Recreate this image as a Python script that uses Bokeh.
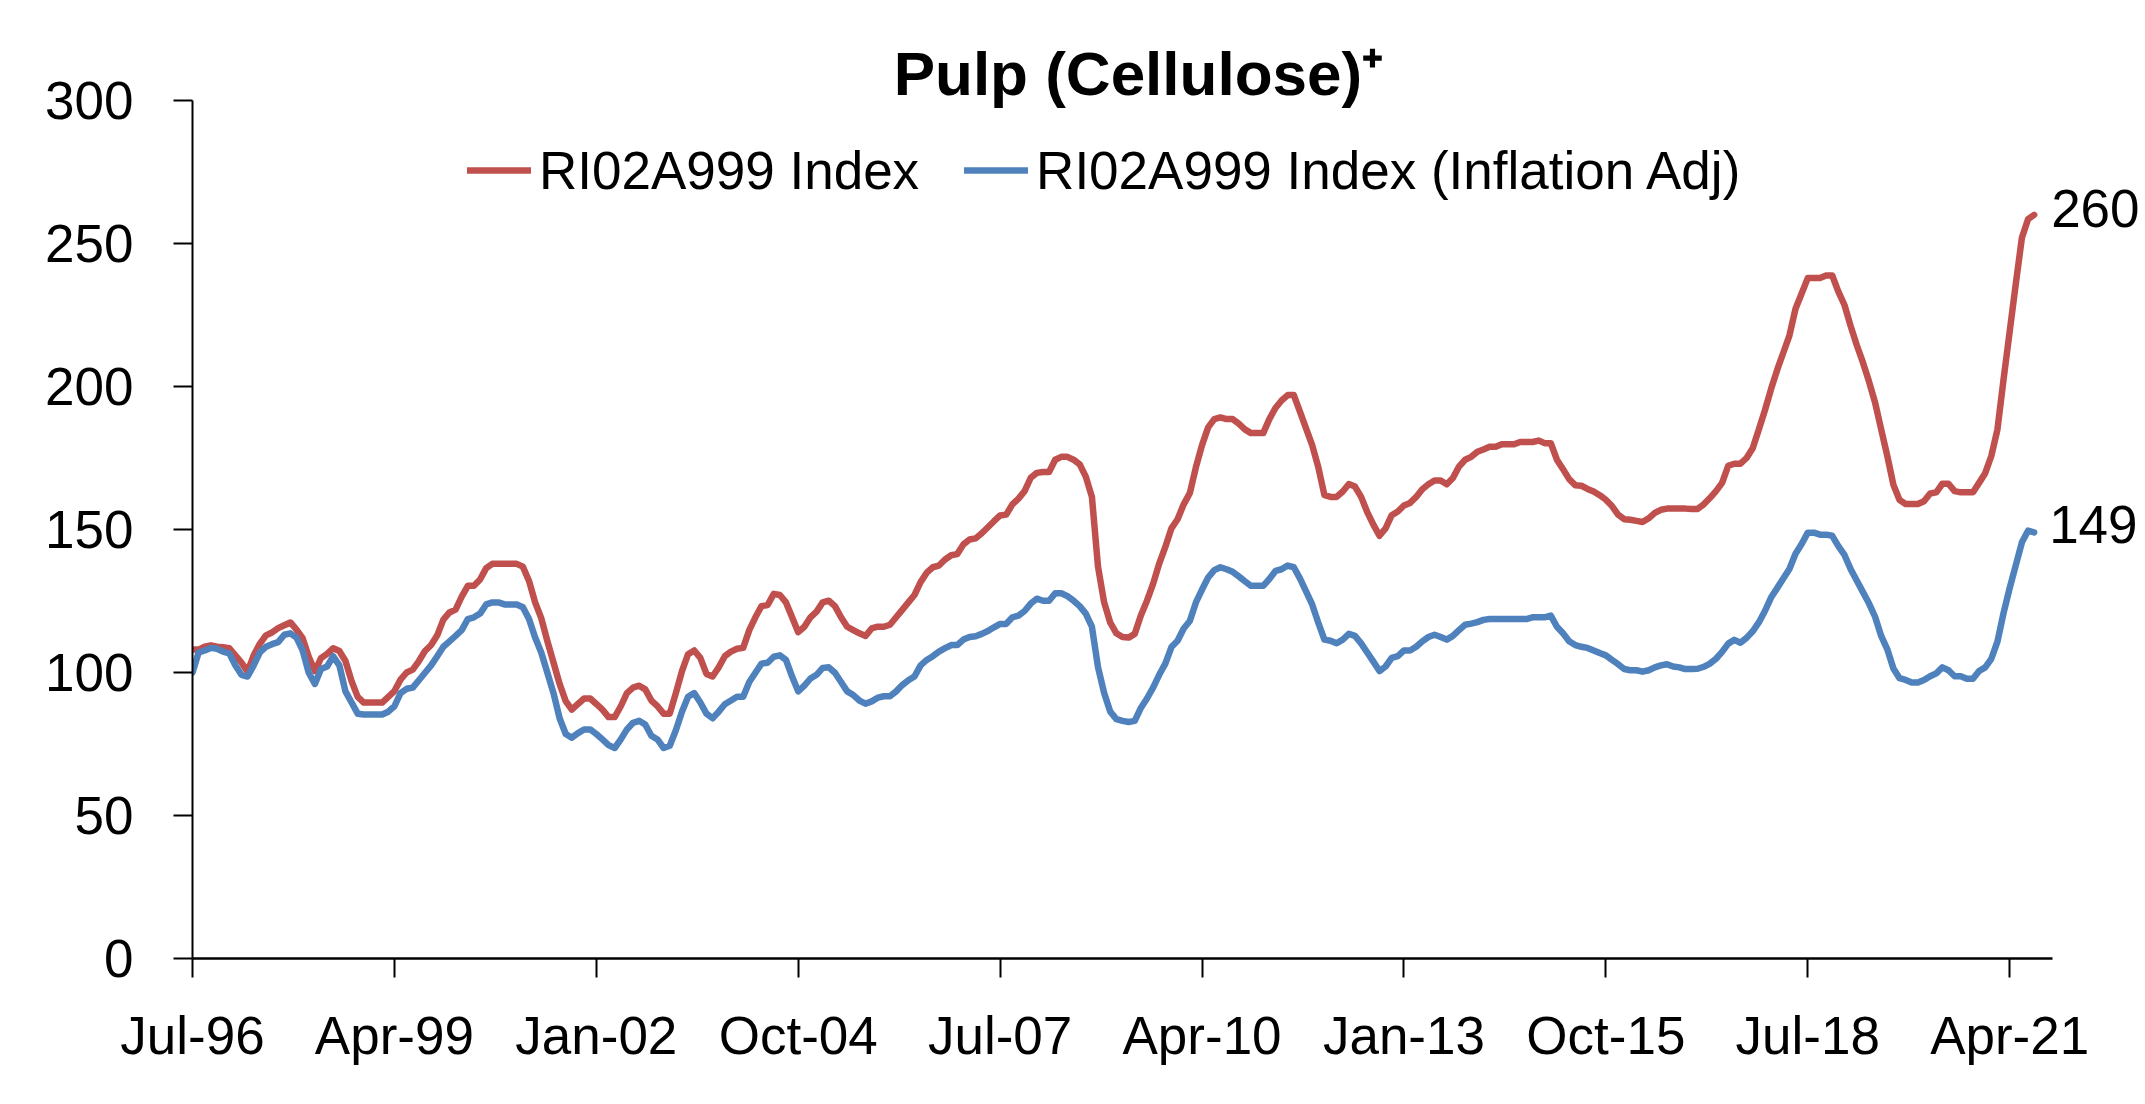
import numpy as np
from bokeh.plotting import figure
from bokeh.models import Range1d, FixedTicker, Label, Legend, LegendItem
from bokeh.embed import file_html
from bokeh.resources import INLINE

# ---------------- data (monthly, starting Jul-96) ----------------
first_month = "Jul-96"
x_tick_labels = ["Jul-96", "Apr-99", "Jan-02", "Oct-04", "Jul-07",
                 "Apr-10", "Jan-13", "Oct-15", "Jul-18", "Apr-21"]
y_ticks = [0, 50, 100, 150, 200, 250, 300]

title_text = "Pulp (Cellulose)\u207a"
series_names = ["RI02A999 Index", "RI02A999 Index (Inflation Adj)"]

red = [
    108, 108, 109, 109.5, 109, 108.8, 108.5, 106, 103.5, 100.3, 106, 110,
    113, 114, 115.5, 116.5, 117.5, 115, 112, 105.5, 100.5, 105, 106.5, 108.5,
    107.5, 104, 97, 91.5, 89.5, 89.5, 89.5, 89.5, 91.5, 93.5, 97.5, 100,
    101, 104, 107.5, 109.6, 113, 118.5, 121, 122, 126.5, 130.3, 130.3, 132.5,
    136.5, 138, 138, 138, 138, 138, 137, 132, 124.5, 119, 111, 103.5,
    96, 90, 87, 89, 90.9, 90.9, 89, 87, 84.4, 84.4, 88.2, 92.8,
    94.7, 95.4, 94.1, 90.2, 88.2, 85.6, 85.6, 92.8, 100.5, 106.4, 107.7, 105.1,
    99.5, 98.6, 101.8, 105.7, 107.3, 108.3, 108.6, 114.8, 119.3, 123.2, 123.6, 127.5,
    127.1, 124.5, 119.3, 114.1, 116, 119.3, 121.3, 124.5, 125.1, 123.2, 119.3, 116,
    114.8, 113.7, 112.8, 115.4, 116, 116, 116.7, 119.3, 121.9, 124.5, 127.1, 131.6,
    134.9, 136.8, 137.4, 139.5, 141, 141.4, 144.8, 146.5, 146.9, 148.7, 150.8, 152.9,
    154.9, 155.2, 158.8, 160.8, 163.4, 168.1, 169.8, 170.1, 170.1, 174.4, 175.4, 175.4,
    174.4, 172.8, 168.5, 161.4, 137, 124.5, 117.4, 113.7, 112.4, 112.2, 113.5, 119.9,
    125.1, 131, 138.1, 143.9, 150.4, 153.6, 158.8, 162.7, 171.8, 179.5, 185.7, 188.6,
    189.2, 188.6, 188.6, 187, 185, 183.7, 183.7, 183.7, 188.6, 192.5, 195.1, 197,
    197, 191.2, 185.4, 179.5, 171.8, 162, 161.4, 161.4, 163.3, 165.9, 165, 161.4,
    156.1, 151.7, 147.8, 150.4, 155, 156.3, 158.4, 159.3, 161.4, 164.1, 165.8, 167.1,
    167.1, 165.8, 168, 172, 174.4, 175.4, 177.2, 178, 178.9, 178.9, 179.8, 179.8,
    179.8, 180.6, 180.6, 180.6, 181.1, 180.2, 180.2, 174.4, 171.1, 167.6, 165.5, 165.3,
    164.2, 163.3, 162, 160.4, 158.2, 155.2, 153.6, 153.4, 153, 152.6, 153.9, 155.8,
    156.9, 157.3, 157.3, 157.3, 157.3, 157.2, 157.2, 158.8, 161, 163.4, 166.3, 172.3,
    173, 173, 175, 178.4, 185, 191.7, 199.1, 205.8, 211.8, 217.8, 227.2, 232.5,
    237.9, 237.9, 237.9, 238.8, 238.8, 233.2, 228.5, 221.2, 214.5, 208.5, 201.8, 194.4,
    185, 175.7, 165.6, 160.3, 158.9, 158.9, 158.9, 159.9, 162.6, 163, 166, 166,
    163.4, 163, 163, 163, 166.3, 169.7, 175.7, 185, 202.5, 219.2, 235.9, 252,
    258.5, 260,
]

blue = [
    100, 107, 107.7, 108.6, 108.3, 107.3, 106.7, 102.5, 99.2, 98.6, 102.5, 107,
    109, 109.9, 110.6, 113.2, 113.7, 112.2, 107.7, 99.9, 96, 101.2, 102.1, 105.7,
    102.5, 93.4, 89.5, 85.6, 85.3, 85.3, 85.3, 85.3, 86.3, 88.2, 92.8, 94.3,
    94.7, 97.3, 99.9, 102.5, 105.7, 109, 110.9, 112.8, 114.8, 118.7, 119.3, 120.6,
    123.8, 124.5, 124.5, 123.8, 123.8, 123.8, 122.8, 118.7, 112.2, 107, 99.9, 92.8,
    84, 78.5, 77.2, 78.8, 80.1, 80.1, 78.5, 76.6, 74.6, 73.6, 76.6, 80.1,
    82.4, 83.1, 81.8, 77.9, 76.6, 73.6, 74.4, 79.8, 86.3, 91.5, 92.8, 89.5,
    85.6, 84, 86.3, 88.9, 90.2, 91.5, 91.5, 96.7, 99.9, 103.1, 103.4, 105.5,
    106, 104.4, 98.6, 93.4, 95.4, 97.9, 99.2, 101.6, 101.8, 99.9, 96.7, 93.4,
    92.1, 90.2, 89.1, 89.9, 91.2, 91.7, 91.7, 93.4, 95.6, 97.3, 98.6, 102.5,
    104.4, 105.7, 107.3, 108.5, 109.6, 109.6, 111.5, 112.4, 112.7, 113.5, 114.5, 115.8,
    117, 117, 119.3, 119.9, 121.5, 124.1, 125.8, 125.1, 125.1, 127.7, 127.7, 126.7,
    125.1, 123.2, 120.6, 116, 101.8, 92.8, 86.3, 83.7, 83.1, 82.7, 83.1, 87.6,
    90.9, 94.7, 99.2, 103.1, 108.9, 111.1, 115.4, 118, 124.5, 129, 133.2, 135.8,
    136.8, 136.1, 135.2, 133.6, 131.9, 130.3, 130.3, 130.3, 132.7, 135.5, 136.1, 137.4,
    136.8, 132.9, 128.4, 123.8, 117.4, 111.5, 111.1, 110.2, 111.5, 113.5, 112.8, 110.2,
    107, 103.8, 100.5, 102.1, 105.1, 105.7, 107.7, 107.7, 109, 110.9, 112.4, 113.2,
    112.4, 111.5, 112.8, 114.8, 116.7, 117.1, 117.6, 118.4, 118.7, 118.7, 118.7, 118.7,
    118.7, 118.7, 118.7, 119.3, 119.3, 119.3, 119.9, 116, 113.7, 110.9, 109.6, 109,
    108.6, 107.7, 106.8, 106, 104.4, 102.9, 101.2, 100.8, 100.8, 100.3, 100.8, 101.8,
    102.5, 102.9, 102.1, 101.8, 101.2, 101.2, 101.3, 102, 103.1, 104.8, 107.2, 110.1,
    111.4, 110.4, 112.1, 114.4, 117.5, 121.5, 126.2, 129.5, 132.9, 136.2, 141.5, 144.9,
    148.9, 148.9, 148.2, 148.2, 147.8, 144.2, 141.1, 136.2, 132.2, 128.2, 124.2, 119.5,
    112.8, 108.1, 101.4, 98, 97.4, 96.5, 96.5, 97.4, 98.7, 99.7, 101.8, 100.8,
    98.7, 98.7, 97.8, 97.8, 100.5, 101.8, 104.8, 110.8, 120.8, 129.5, 137.5, 145.5,
    149.6, 149,
]

MONTHS = ["Jan", "Feb", "Mar", "Apr", "May", "Jun", "Jul", "Aug", "Sep", "Oct", "Nov", "Dec"]


def month_number(lbl):
    yy = int(lbl[-2:])
    year = 1900 + yy if yy > 50 else 2000 + yy
    return year * 12 + MONTHS.index(lbl[:3])


base = month_number(first_month)
x_ticks = [month_number(l) - base for l in x_tick_labels]
xs = np.arange(len(red))

# ---------------- layout ----------------
RED = "#C0504D"
BLUE = "#4F81BD"
FONT = "Liberation Sans"
FS = "53px"

W, H = 2145, 1104
LEFT, BOTTOM = 192, 146
frame_w, frame_h = W - LEFT, H - BOTTOM
AXIS_X_END, AXIS_X_PX = 304, 1860      # x axis spans 304 months over 1860 px
AXIS_Y_END, AXIS_Y_PX = 300, 858       # y axis spans 0..300 over 858 px
x_max = AXIS_X_END * frame_w / AXIS_X_PX
y_max = AXIS_Y_END * frame_h / AXIS_Y_PX

p = figure(width=W, height=H, output_backend="svg", toolbar_location=None,
           x_range=Range1d(0, x_max), y_range=Range1d(0, y_max),
           min_border_left=LEFT, min_border_right=0, min_border_top=0,
           min_border_bottom=BOTTOM, background_fill_color="white",
           border_fill_color="white")
p.grid.visible = False
p.outline_line_color = None

r_red = p.line(xs, red, line_color=RED, line_width=6.5, line_join="round", line_cap="round")
r_blue = p.line(xs, blue, line_color=BLUE, line_width=6.5, line_join="round", line_cap="round")

# axes
p.xaxis.ticker = FixedTicker(ticks=x_ticks)
p.xaxis.major_label_overrides = {t: l for t, l in zip(x_ticks, x_tick_labels)}
p.xaxis.bounds = (0, AXIS_X_END)
p.yaxis.ticker = FixedTicker(ticks=y_ticks)
p.yaxis.bounds = (0, AXIS_Y_END)
for ax in (p.xaxis, p.yaxis):
    ax.minor_tick_line_color = None
    ax.major_tick_in = 0
    ax.major_tick_out = 19
    ax.major_tick_line_color = "black"
    ax.major_tick_line_width = 2
    ax.axis_line_color = "black"
    ax.major_label_text_font = FONT
    ax.major_label_text_font_size = FS
    ax.major_label_text_color = "black"
p.xaxis.axis_line_width = 2.5
p.yaxis.axis_line_width = 2
p.xaxis.major_label_standoff = 28
p.yaxis.major_label_standoff = 40

# title
p.add_layout(Label(x=154.6, y=AXIS_Y_END, y_offset=27, text=title_text, text_align="center",
                   text_baseline="middle", text_font=FONT, text_font_style="bold",
                   text_font_size="62px", text_color="black"))

# legend
legend = Legend(items=[LegendItem(label=series_names[0], renderers=[r_red]),
                       LegendItem(label=series_names[1], renderers=[r_blue])],
                location=(275, 748), orientation="horizontal",
                glyph_width=64, glyph_height=80, label_height=80,
                label_standoff=8, spacing=45, padding=0, margin=0,
                border_line_alpha=0, background_fill_alpha=0,
                label_text_font=FONT, label_text_font_size=FS,
                label_text_color="black")
p.add_layout(legend)

# end-of-series labels
p.add_layout(Label(x=xs[-1], y=red[-1], text=f"{red[-1]:.0f}", x_offset=17, y_offset=6,
                   text_baseline="middle", text_font=FONT, text_font_size=FS,
                   text_color="black"))
p.add_layout(Label(x=xs[-1], y=blue[-1], text=f"{blue[-1]:.0f}", x_offset=15, y_offset=8,
                   text_baseline="middle", text_font=FONT, text_font_size=FS,
                   text_color="black"))

open("out.html", "w").write(file_html(p, INLINE))
